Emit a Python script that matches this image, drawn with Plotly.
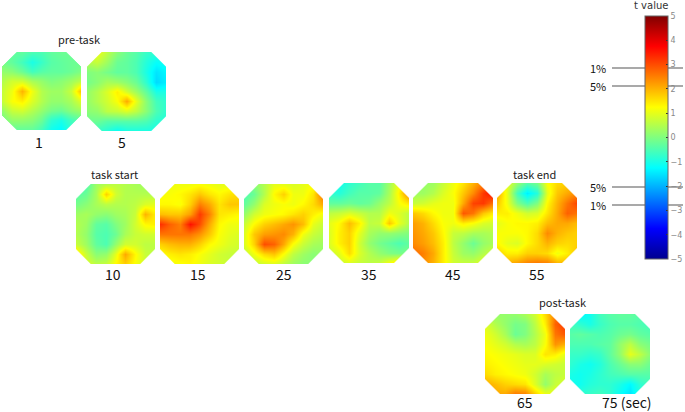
import plotly.graph_objects as go

W, H = 685, 412

t1 = [[-.3,-.3,-.3,-.5,-.5,-.3,-.2,-.2,-.2],[-.1,-.3,-.6,-1.0,-.7,-.4,-.3,-.2,-.2],[.2,.1,-.2,-.6,-.4,-.3,-.3,-.2,0],
      [.5,.8,.8,.4,.2,0,.1,.3,.6],[.7,1.1,2.0,1.1,.5,.3,.3,.7,1.9],[.7,1.2,1.4,.9,.5,.2,.2,.4,.9],
      [.2,.7,.8,.5,.2,-.1,-.2,.1,.3],[-.1,.2,.2,.1,-.2,-.8,-1,-.6,-.3],[-.4,-.3,-.3,-.3,-.6,-1.1,-1.3,-.8,-.5]]
t5 = [[.8,1.1,.6,.1,-.2,-.4,-.7,-.8,-.9],[.5,.7,.3,-.2,-.3,-.5,-.9,-1.2,-1.1],[0,.1,-.1,-.3,-.3,-.5,-1,-1.5,-1.3],
      [-.1,.1,.4,.3,.1,-.2,-.8,-1.6,-1.4],[.2,.5,.9,1.4,.8,.3,-.3,-1.0,-1.0],[.2,.5,.8,1.2,2.1,1.0,.1,-.6,-.8],
      [.1,.2,.6,.7,.9,.6,.1,-.5,-.8],[-.2,-.2,-.4,-.4,-.4,-.4,-.5,-.8,-.9],[-.6,-.7,-.9,-1.2,-1.0,-1.0,-1.0,-1,-1]]
t10 = [[-.6,-.5,.3,.5,.6,.5,.4,.3,.3],[-.4,-.2,.4,1.7,.8,.5,.5,.5,.5],[-.1,.1,.4,.6,.5,.5,.6,.9,1.0],
       [.3,.4,.2,.1,.3,.4,.7,2.0,1.4],[.5,.3,-.3,-.4,0,.3,.8,1.3,1.4],[.5,.2,-.4,-.5,-.2,.4,.7,.8,.8],
       [.7,.3,-.3,-.5,.2,.8,.8,.6,.6],[1.6,.7,.1,.2,1.0,2.1,1.3,.7,.6],[1.7,.9,.6,.7,1.3,1.7,1.2,.8,.7]]
t15 = [[1.0,1.1,1.1,1.1,1.2,1.1,1.0,1.0,1.0],[1.2,1.2,1.3,1.5,1.8,1.5,1.3,1.5,1.6],[1.3,1.3,1.2,1.7,2.5,2.1,1.5,1.8,1.8],
       [1.9,1.8,1.8,2.2,3.2,2.5,1.5,1.4,1.3],[3.3,2.8,2.5,3.6,3.0,2.1,1.3,1.1,1.1],[2.6,2.6,2.6,2.6,2.3,1.8,1.2,1.0,.9],
       [1.7,1.9,2.0,2.0,1.7,1.3,1.1,.9,.8],[1.2,1.4,1.5,1.4,1.2,1.0,.8,.7,.7],[1.0,1.1,1.2,1.3,1.1,.9,.8,.7,.7]]
t25 = [[-.2,.1,.5,1.0,1.0,.9,1.0,1.2,1.7],[-.5,-.2,.5,1.3,1.7,1.1,1.1,1.5,2.7],[-.3,.2,.9,1.1,1.2,1.1,1.3,1.6,2.1],
       [.2,.8,1.1,1.2,1.3,1.5,1.7,1.4,1.1],[.7,1.3,1.7,1.9,2.1,2.3,1.9,1.0,.7],[.9,1.8,2.2,2.3,2.4,2.0,1.1,.7,.5],
       [.9,1.7,3.0,2.8,2.1,1.2,.7,.4,.3],[.6,1.1,1.6,1.8,1.2,.6,.3,.1,.2],[.4,.6,.8,.9,.6,.3,.1,.1,.2]]
t35 = [[-.9,-1.1,-.8,-.6,-.4,-.4,.3,1.1,1.9],[-.8,-.9,-.6,-.4,-.4,-.3,.4,1.4,2.5],[-.3,-.3,-.2,-.3,-.2,.2,.6,1.2,1.5],
       [.6,.7,.9,.7,.5,.5,1.1,.9,.6],[1.0,1.3,1.9,1.4,.6,.7,1.8,1.0,.5],[.9,1.4,1.7,1.0,.4,.2,.2,.1,0],
       [.9,1.4,1.7,.8,.2,-.1,-.3,-.5,-.3],[.7,1.0,1.6,.9,.5,.2,0,-.1,0],[.6,.7,.9,.7,.6,.7,1.2,1.7,.7]]
t45 = [[.2,.2,.3,.7,1.1,1.5,2.0,2.5,3.0],[.3,.3,.5,.9,1.2,1.8,2.4,3.2,3.7],[.7,.8,1.0,1.1,1.1,2.1,3.1,3.2,2.6],
       [1.8,1.6,1.3,1.1,1.1,2.9,2.6,1.8,1.4],[2.2,2.0,1.6,1.2,1.1,1.4,1.2,.9,.8],[2.3,2.1,1.8,1.3,.7,.6,.4,.4,.5],
       [2.4,2.2,1.9,1.4,.6,.2,-.2,.2,.4],[2.7,2.5,2.1,1.4,.7,.3,.2,.5,.8],[2.6,2.4,2.0,1.4,.8,.7,.7,1.0,1.2]]
t55 = [[1.4,1.0,.2,-.4,-.1,1.2,1.6,1.7,1.8],[2.1,1.0,-.6,-1.4,-.9,1.0,1.8,2.1,2.4],[1.8,1.1,0,-.5,0,1.3,2.0,2.6,3.1],
       [1.4,1.4,1.1,.8,.9,1.5,2.1,2.8,2.6],[1.0,1.2,1.3,1.3,1.4,1.9,2.1,2.1,1.9],[1.2,1.2,1.2,1.3,1.6,2.4,2.0,1.8,1.7],
       [1.3,1.0,.9,1.3,1.6,2.0,1.7,1.6,1.7],[1.7,1.4,1.4,1.7,1.7,1.6,1.1,1.4,1.8],[1.9,2.0,2.2,2.5,2.6,2.5,2.0,1.9,2.0]]
t65 = [[.1,.2,.2,.2,.4,.8,1.6,2.5,2.8],[.9,.5,.2,-.1,0,.6,1.4,2.8,3.2],[1.1,.8,.4,-.2,0,.5,1.1,2.6,2.9],
       [1.2,1.0,.8,.5,.4,.6,1.2,2.3,2.0],[1.3,1.2,1.1,1.0,.9,.9,1.5,1.4,1.0],[1.4,1.3,1.2,1.1,1.0,1.0,.9,.8,.7],
       [1.6,1.4,1.3,1.2,1.1,.8,.4,.6,.7],[2.1,1.9,1.7,1.6,1.5,.9,.2,.7,.9],[2.2,2.1,2.1,2.6,2.5,1.7,1.1,1.1,1.2]]
t75 = [[-1.0,-1.3,-1.1,-.6,-.4,-.3,-.3,-.4,-.5],[-.6,-.8,-1.0,-.7,-.5,-.4,-.4,-.5,-.6],[-.4,-.3,-.4,-.5,-.4,-.2,-.1,-.3,-.4],
       [-.5,-.5,-.5,-.4,-.3,.2,.6,.1,-.1],[-.7,-.7,-.8,-.7,-.3,.2,1.0,.6,.1],[-.8,-1.0,-1.1,-.9,-.5,-.2,.1,.1,-.2],
       [-1.0,-1.1,-1.0,-.8,-.6,-.5,-.4,-.4,-.4],[-1.1,-1.1,-.9,-.8,-.8,-1.0,-1.3,-.8,-.6],[-.9,-.8,-.7,-.6,-.8,-1.2,-1.5,-.9,-.7]]

# name, grid, left, top, right, bottom (px), label centre x, label centre y
panels = [("1", t1, 2, 52, 81, 130, 39, 142), ("5", t5, 87, 52, 166, 131, 122, 142),
          ("10", t10, 76, 184, 155, 264, 113, 274), ("15", t15, 160, 184, 239, 264, 198, 274),
          ("25", t25, 244, 184, 323, 264, 284, 274), ("35", t35, 329, 183, 409, 263, 369, 274),
          ("45", t45, 413, 183, 493, 263, 453, 274), ("55", t55, 497, 183, 577, 263, 537, 274),
          ("65", t65, 485, 314, 565, 394, 525, 402), ("75 (sec)", t75, 570, 314, 650, 394, 627, 402)]
section_titles = [("pre-task", 79, 39), ("task start", 115, 174), ("task end", 534, 174), ("post-task", 562, 302)]
thresholds = [("1%", 68), ("5%", 86), ("5%", 187), ("1%", 205)]
CUT = 0.2
FONT = "Noto Sans CJK JP"
JET = [[0, "rgb(0,0,143)"], [.125, "rgb(0,0,255)"], [.375, "rgb(0,255,255)"], [.625, "rgb(255,255,0)"],
       [.875, "rgb(255,0,0)"], [1, "rgb(128,0,0)"]]

fig = go.Figure()
shapes, annotations, layout = [], [], {}
for i, (name, z, l, t, r, b, lx, ly) in enumerate(panels, 1):
    sfx = "" if i == 1 else str(i)
    trace = dict(z=z[::-1], colorscale=JET, zmin=-5, zmax=5, zsmooth="best", xaxis=f"x{sfx}", yaxis=f"y{sfx}",
                 showscale=i == 1, hoverinfo="skip")
    if i == 1:
        trace["colorbar"] = dict(x=645/W, xanchor="left", xpad=0, ypad=0, y=1-16/H, yanchor="top",
                                 lenmode="pixels", len=243, thicknessmode="pixels", thickness=23,
                                 tickvals=list(range(-5, 6)), ticks="inside", ticklen=2, tickcolor="#333",
                                 tickfont=dict(family="DejaVu Sans", size=8, color="#888"),
                                 outlinecolor="#666", outlinewidth=1)
    fig.add_trace(go.Heatmap(**trace))
    layout[f"xaxis{sfx}"] = dict(domain=[l/W, r/W], visible=False, range=[0, 8], anchor=f"y{sfx}", fixedrange=True)
    layout[f"yaxis{sfx}"] = dict(domain=[1-b/H, 1-t/H], visible=False, range=[0, 8], anchor=f"x{sfx}", fixedrange=True)
    for cx, cy, dx, dy in [(0, 0, 1, 1), (1, 0, -1, 1), (0, 1, 1, -1), (1, 1, -1, -1)]:
        e = 0.02
        x0, y0 = cx - dx*e, cy - dy*e
        shapes.append(dict(type="path", xref=f"x{sfx} domain", yref=f"y{sfx} domain",
                           path=f"M {x0} {y0} L {cx+dx*CUT} {y0} L {x0} {cy+dy*CUT} Z",
                           fillcolor="white", line=dict(color="white", width=1), layer="above"))
    annotations.append(dict(text=name, x=lx/W, y=1-ly/H, xref="paper", yref="paper", showarrow=False,
                            xanchor="center", yanchor="middle", font=dict(family=FONT, size=14, color="#111")))
for s, x, y in section_titles:
    annotations.append(dict(text=s, x=x/W, y=1-y/H, xref="paper", yref="paper", showarrow=False,
                            xanchor="center", yanchor="middle", font=dict(family=FONT, size=11, color="#222")))
annotations.append(dict(text="t value", x=651/W, y=1-6/H, xref="paper", yref="paper", showarrow=False,
                        xanchor="center", yanchor="middle", font=dict(family="DejaVu Sans", size=10, color="#333")))
for s, y in thresholds:
    shapes.append(dict(type="line", xref="paper", yref="paper", x0=612/W, x1=683/W, y0=1-y/H, y1=1-y/H,
                       line=dict(color="#555", width=1.2), layer="above"))
    annotations.append(dict(text=s, x=598/W, y=1-y/H, xref="paper", yref="paper", showarrow=False,
                            xanchor="center", yanchor="middle", font=dict(family=FONT, size=11, color="#111")))

fig.update_layout(width=W, height=H, margin=dict(l=0, r=0, t=0, b=0), paper_bgcolor="white", plot_bgcolor="white",
                  shapes=shapes, annotations=annotations, showlegend=False, **layout)
fig.write_html("out.html", config={"displayModeBar": False}, post_script="document.body.style.margin='0';")
